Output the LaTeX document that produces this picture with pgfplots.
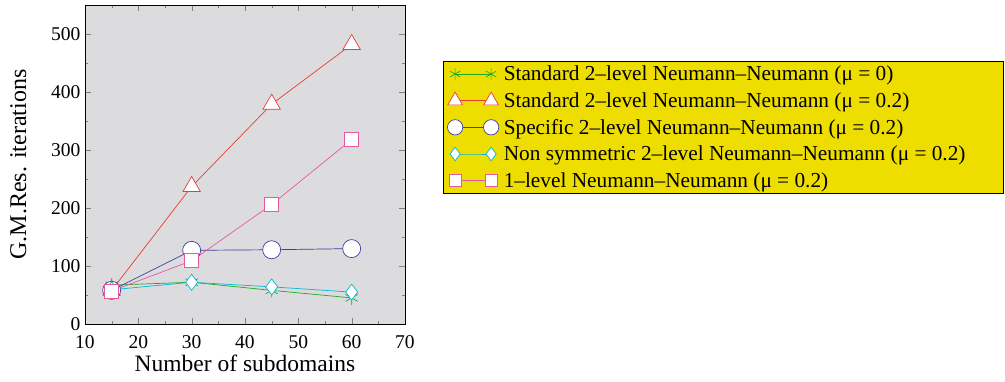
\documentclass[border=0pt]{standalone}
\usepackage{fontspec}
\setmainfont{Liberation Serif}
\usepackage{pgfplots}
\pgfplotsset{compat=1.18}
\definecolor{cstar}{RGB}{30,170,40}
\definecolor{ctri}{RGB}{232,60,60}
\definecolor{ccirc}{RGB}{60,60,165}
\definecolor{cdiam}{RGB}{0,185,210}
\definecolor{csq}{RGB}{228,90,160}
\definecolor{bg}{RGB}{220,220,222}
\definecolor{legy}{RGB}{238,222,0}
\begin{document}
\begin{tikzpicture}
\begin{axis}[name=ax,
  scale only axis, width=320pt, height=319pt,
  xmin=10, xmax=70, ymin=0, ymax=550,
  xtick={10,20,...,70}, ytick={0,100,...,500},
  minor x tick num=1, minor y tick num=1,
  tick align=inside, major tick length=6pt, minor tick length=3pt,
  axis background/.style={fill=bg},
  /pgf/number format/assume math mode=true,
  ticklabel style={font=\fontsize{19.5}{20}\selectfont},
  xticklabel style={yshift=-8pt},
  yticklabel style={xshift=-1pt},
  xlabel={Number of subdomains}, ylabel={G.M.Res. iterations},
  xlabel style={font=\fontsize{23.5}{24}\selectfont, yshift=1pt},
  ylabel style={font=\fontsize{24}{24}\selectfont, yshift=18pt},
  every axis plot/.append style={line width=0.7pt, mark options={solid, fill=white}},
  legend cell align=left,
  legend image code/.code={\draw[line width=0.7pt, mark repeat=2,mark phase=1, mark options={solid, fill=white, scale=0.85}] plot coordinates {(0pt,0pt)(18pt,0pt)(36pt,0pt)};},
  legend style={at={(1.119,0.826)}, anchor=north west, fill=legy, draw=black, line width=0.8pt,
    font=\fontsize{21.3}{25}\selectfont, row sep=6.3pt, column sep=3pt, inner xsep=4pt, inner ysep=3pt},
]
\addplot[cstar, mark=asterisk, mark size=7pt] coordinates {(15,67) (30,72) (45,58) (60,45)};
\addlegendentry{Standard 2–level Neumann–Neumann (μ = 0)}
\addplot[ctri, mark=triangle*, mark size=10pt] coordinates {(15,58) (30,237) (45,379) (60,482)};
\addlegendentry{Standard 2–level Neumann–Neumann (μ = 0.2)}
\addplot[ccirc, mark=*, mark size=9pt] coordinates {(15,58) (30,127) (45,128) (60,130)};
\addlegendentry{Specific 2–level Neumann–Neumann (μ = 0.2)}
\addplot[cdiam, mark=diamond*, mark size=8pt] coordinates {(15,59) (30,72) (45,64) (60,55)};
\addlegendentry{Non symmetric 2–level Neumann–Neumann (μ = 0.2)\rule{32pt}{0pt}}
\addplot[csq, mark=square*, mark size=7pt] coordinates {(15,57) (30,109) (45,206) (60,318)};
\addlegendentry{1–level Neumann–Neumann (μ = 0.2)}
\end{axis}
\path (ax.south west) ++(-85pt,-58pt) rectangle ++(1005pt,382pt);
\end{tikzpicture}
\end{document}
